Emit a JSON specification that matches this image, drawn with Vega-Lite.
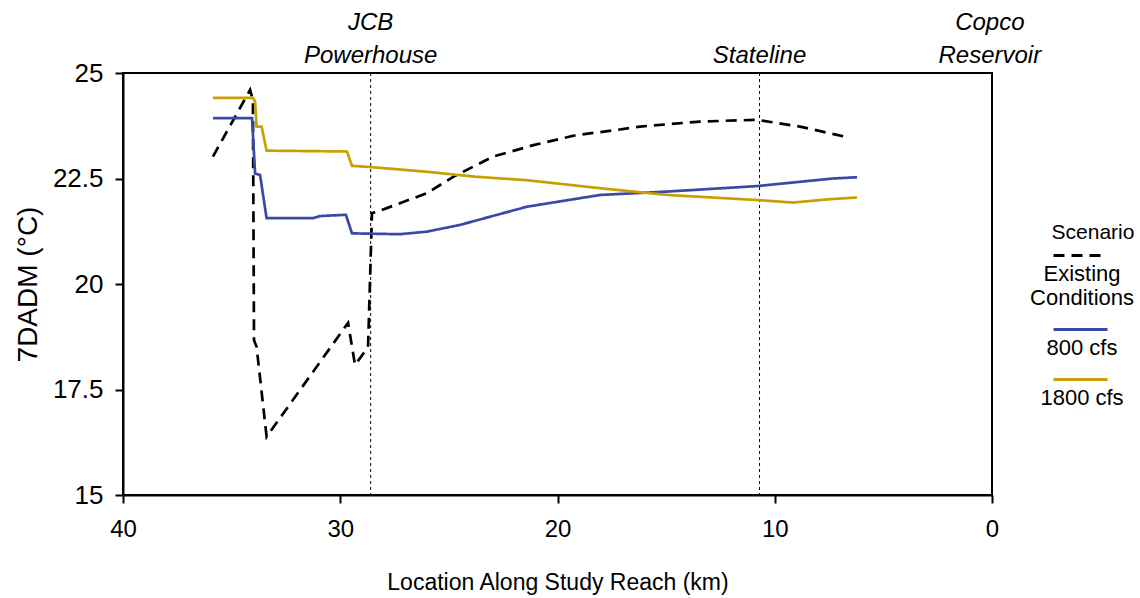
{
  "$schema": "https://vega.github.io/schema/vega-lite/v6.json",
  "width": 869,
  "height": 422,
  "autosize": "none",
  "padding": {"left": 123, "top": 73, "right": 148, "bottom": 103},
  "config": {
    "font": "Liberation Sans",
    "view": {"stroke": "#000000", "strokeWidth": 2},
    "axis": {"grid": false, "domainColor": "#000000", "domainWidth": 2, "tickColor": "#000000", "tickWidth": 2, "tickSize": 8, "labelColor": "#000000", "titleColor": "#000000", "titleFontWeight": "normal", "labelFlush": false}
  },
  "datasets": {
    "series": [
      {"scenario": "Existing Conditions", "i": 1, "km": 35.86, "t": 23.02},
      {"scenario": "Existing Conditions", "i": 2, "km": 34.15, "t": 24.6},
      {"scenario": "Existing Conditions", "i": 3, "km": 34.02, "t": 24.36},
      {"scenario": "Existing Conditions", "i": 4, "km": 33.97, "t": 18.67},
      {"scenario": "Existing Conditions", "i": 5, "km": 33.85, "t": 18.51},
      {"scenario": "Existing Conditions", "i": 6, "km": 33.39, "t": 16.38},
      {"scenario": "Existing Conditions", "i": 7, "km": 29.64, "t": 19.08},
      {"scenario": "Existing Conditions", "i": 8, "km": 29.32, "t": 18.08},
      {"scenario": "Existing Conditions", "i": 9, "km": 28.72, "t": 18.51},
      {"scenario": "Existing Conditions", "i": 10, "km": 28.54, "t": 21.68},
      {"scenario": "Existing Conditions", "i": 11, "km": 28.32, "t": 21.71},
      {"scenario": "Existing Conditions", "i": 12, "km": 26.02, "t": 22.15},
      {"scenario": "Existing Conditions", "i": 13, "km": 24.8, "t": 22.54},
      {"scenario": "Existing Conditions", "i": 14, "km": 22.96, "t": 23.02},
      {"scenario": "Existing Conditions", "i": 15, "km": 21.11, "t": 23.29},
      {"scenario": "Existing Conditions", "i": 16, "km": 19.12, "t": 23.53},
      {"scenario": "Existing Conditions", "i": 17, "km": 17.27, "t": 23.65},
      {"scenario": "Existing Conditions", "i": 18, "km": 16.2, "t": 23.73},
      {"scenario": "Existing Conditions", "i": 19, "km": 13.44, "t": 23.85},
      {"scenario": "Existing Conditions", "i": 20, "km": 10.82, "t": 23.89},
      {"scenario": "Existing Conditions", "i": 21, "km": 8.84, "t": 23.73},
      {"scenario": "Existing Conditions", "i": 22, "km": 6.67, "t": 23.48},
      {"scenario": "800 cfs", "i": 1, "km": 35.86, "t": 23.93},
      {"scenario": "800 cfs", "i": 2, "km": 34.06, "t": 23.93},
      {"scenario": "800 cfs", "i": 3, "km": 33.92, "t": 22.62},
      {"scenario": "800 cfs", "i": 4, "km": 33.69, "t": 22.58},
      {"scenario": "800 cfs", "i": 5, "km": 33.39, "t": 21.56},
      {"scenario": "800 cfs", "i": 6, "km": 31.25, "t": 21.56},
      {"scenario": "800 cfs", "i": 7, "km": 30.93, "t": 21.61},
      {"scenario": "800 cfs", "i": 8, "km": 29.74, "t": 21.64},
      {"scenario": "800 cfs", "i": 9, "km": 29.46, "t": 21.2},
      {"scenario": "800 cfs", "i": 10, "km": 27.25, "t": 21.18},
      {"scenario": "800 cfs", "i": 11, "km": 26.02, "t": 21.24},
      {"scenario": "800 cfs", "i": 12, "km": 24.49, "t": 21.4},
      {"scenario": "800 cfs", "i": 13, "km": 21.42, "t": 21.83},
      {"scenario": "800 cfs", "i": 14, "km": 18.04, "t": 22.11},
      {"scenario": "800 cfs", "i": 15, "km": 14.96, "t": 22.19},
      {"scenario": "800 cfs", "i": 16, "km": 10.82, "t": 22.32},
      {"scenario": "800 cfs", "i": 17, "km": 7.32, "t": 22.5},
      {"scenario": "800 cfs", "i": 18, "km": 6.21, "t": 22.53},
      {"scenario": "1800 cfs", "i": 1, "km": 35.86, "t": 24.41},
      {"scenario": "1800 cfs", "i": 2, "km": 34.02, "t": 24.41},
      {"scenario": "1800 cfs", "i": 3, "km": 33.92, "t": 24.32},
      {"scenario": "1800 cfs", "i": 4, "km": 33.85, "t": 23.73},
      {"scenario": "1800 cfs", "i": 5, "km": 33.62, "t": 23.73},
      {"scenario": "1800 cfs", "i": 6, "km": 33.39, "t": 23.16},
      {"scenario": "1800 cfs", "i": 7, "km": 29.69, "t": 23.14},
      {"scenario": "1800 cfs", "i": 8, "km": 29.46, "t": 22.8},
      {"scenario": "1800 cfs", "i": 9, "km": 28.58, "t": 22.77},
      {"scenario": "1800 cfs", "i": 10, "km": 26.02, "t": 22.66},
      {"scenario": "1800 cfs", "i": 11, "km": 23.72, "t": 22.54},
      {"scenario": "1800 cfs", "i": 12, "km": 21.42, "t": 22.46},
      {"scenario": "1800 cfs", "i": 13, "km": 18.04, "t": 22.27},
      {"scenario": "1800 cfs", "i": 14, "km": 14.96, "t": 22.11},
      {"scenario": "1800 cfs", "i": 15, "km": 10.82, "t": 21.99},
      {"scenario": "1800 cfs", "i": 16, "km": 9.16, "t": 21.93},
      {"scenario": "1800 cfs", "i": 17, "km": 7.46, "t": 22.01},
      {"scenario": "1800 cfs", "i": 18, "km": 6.21, "t": 22.05}
    ],
    "refs": [
      {"km": 28.6, "label": ["JCB", "Powerhouse"]},
      {"km": 10.7, "label": ["", "Stateline"]},
      {"km": 0.1, "label": ["Copco", "Reservoir"]}
    ]
  },
  "layer": [
    {
      "data": {"name": "refs"},
      "transform": [{"filter": "datum.km > 1"}],
      "mark": {"type": "rule", "color": "#000000", "strokeWidth": 1, "strokeDash": [3, 3]},
      "encoding": {
        "x": {"field": "km", "type": "quantitative", "scale": {"domain": [0, 40], "reverse": true}}
      }
    },
    {
      "data": {"name": "series"},
      "mark": {"type": "line", "strokeWidth": 2.7},
      "encoding": {
        "x": {
          "field": "km", "type": "quantitative",
          "scale": {"domain": [0, 40], "reverse": true},
          "axis": {"title": "Location Along Study Reach (km)", "values": [0, 10, 20, 30, 40], "labelFontSize": 24, "labelPadding": 14, "titleFontSize": 23, "titlePadding": 30}
        },
        "y": {
          "field": "t", "type": "quantitative",
          "scale": {"domain": [15, 25]},
          "axis": {"title": "7DADM (°C)", "values": [15, 17.5, 20, 22.5, 25], "format": ".1~f", "labelFontSize": 26, "labelPadding": 12, "titleFontSize": 28, "titlePadding": 10}
        },
        "color": {
          "field": "scenario", "type": "nominal",
          "scale": {"domain": ["Existing Conditions", "800 cfs", "1800 cfs"], "range": ["#000000", "#3b48a8", "#c8a000"]},
          "legend": {"title": "Scenario", "orient": "none", "legendX": 929, "legendY": 149, "padding": 0, "titleFontSize": 21, "titleFontWeight": "normal", "titleColor": "#000000", "titleAnchor": "middle", "titlePadding": -8, "labelFontSize": 22, "labelColor": "#000000", "labelAlign": "center", "labelOffset": -27, "labelBaseline": "top", "labelLimit": 300, "symbolType": "M-1,-0.3L1,-0.3", "symbolSize": 2916, "symbolStrokeWidth": 3, "rowPadding": -4, "labelExpr": "datum.label == 'Existing Conditions' ? ['Existing', 'Conditions'] : datum.label"}
        },
        "strokeDash": {
          "field": "scenario", "type": "nominal",
          "scale": {"domain": ["Existing Conditions", "800 cfs", "1800 cfs"], "range": [[11, 7], [1, 0], [1, 0]]},
          "legend": {"title": "Scenario", "orient": "none", "legendX": 929, "legendY": 149, "padding": 0, "titleFontSize": 21, "titleFontWeight": "normal", "titleColor": "#000000", "titleAnchor": "middle", "titlePadding": -8, "labelFontSize": 22, "labelColor": "#000000", "labelAlign": "center", "labelOffset": -27, "labelBaseline": "top", "labelLimit": 300, "symbolType": "M-1,-0.3L1,-0.3", "symbolSize": 2916, "symbolStrokeWidth": 3, "rowPadding": -4, "labelExpr": "datum.label == 'Existing Conditions' ? ['Existing', 'Conditions'] : datum.label"}
        },
        "order": {"field": "i", "type": "quantitative"}
      }
    },
    {
      "data": {"name": "refs"},
      "mark": {"type": "text", "fontSize": 24, "fontStyle": "italic", "align": "center", "baseline": "bottom", "lineHeight": 33, "dy": -38, "color": "#000000"},
      "encoding": {
        "x": {"field": "km", "type": "quantitative", "scale": {"domain": [0, 40], "reverse": true}},
        "y": {"datum": 25, "type": "quantitative"},
        "text": {"field": "label"}
      }
    }
  ]
}
